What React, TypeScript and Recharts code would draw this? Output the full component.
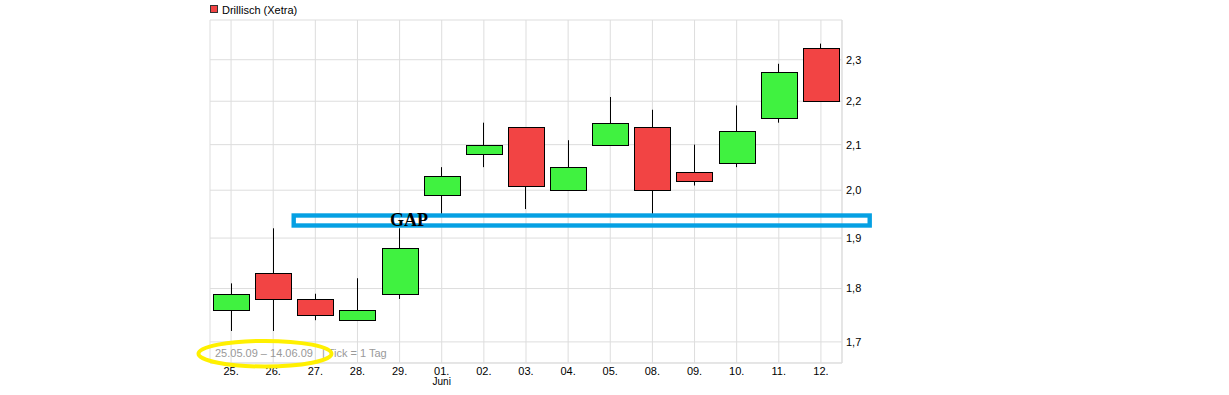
import React from "react";
import { ComposedChart, Bar, XAxis, YAxis, CartesianGrid, Cell, ReferenceArea } from "recharts";

const dates = ["25.", "26.", "27.", "28.", "29.", "01.", "02.", "03.", "04.", "05.", "08.", "09.", "10.", "11.", "12."];
const opens = [1.76, 1.83, 1.78, 1.74, 1.79, 1.99, 2.08, 2.14, 2.0, 2.1, 2.14, 2.04, 2.06, 2.16, 2.33];
const closes = [1.79, 1.78, 1.75, 1.76, 1.88, 2.03, 2.1, 2.01, 2.05, 2.15, 2.0, 2.02, 2.13, 2.27, 2.2];
const highs = [1.81, 1.92, 1.79, 1.82, 1.92, 2.05, 2.15, 2.14, 2.11, 2.21, 2.18, 2.1, 2.19, 2.29, 2.34];
const lows = [1.72, 1.72, 1.74, 1.74, 1.78, 1.95, 2.05, 1.96, 2.0, 2.1, 1.95, 2.01, 2.05, 2.15, 2.2];
const yTicks = [1.7, 1.8, 1.9, 2.0, 2.1, 2.2, 2.3];
const monthLabels: Record<string, string> = { "01.": "Juni" };
const seriesName = "Drillisch (Xetra)";
const rangeText = "25.05.09 \u2013 14.06.09";
const tickText = "| Tick = 1 Tag";

const GREEN = "#40F240";
const RED = "#F24444";
const GRID = "#dddddd";
const FONT = "'Liberation Sans', Arial, sans-serif";

const data = dates.map((d, i) => ({
  date: d,
  body: [Math.min(opens[i], closes[i]), Math.max(opens[i], closes[i])],
  wick: [lows[i], highs[i]],
  up: closes[i] >= opens[i],
}));

const Wick = (props: any) => {
  const { x, y, width, height } = props;
  if (x == null || y == null) return null;
  const cx = Math.round(x + width / 2) - 0.5;
  return <line x1={cx} x2={cx} y1={y} y2={y + height} stroke="#000" strokeWidth={1} />;
};

const Body = (props: any) => {
  const { x, y, width, height, payload } = props;
  if (x == null || y == null) return null;
  const x0 = Math.round(x) + 0.5;
  const y0 = Math.round(y) + 0.5;
  const y1 = Math.round(y + height) + 0.5;
  return (
    <rect
      x={x0}
      y={y0}
      width={Math.round(width)}
      height={Math.max(1, y1 - y0)}
      fill={payload.up ? GREEN : RED}
      stroke="#000"
      strokeWidth={1}
    />
  );
};

const XTick = (props: any) => {
  const { x, y, payload } = props;
  const extra = monthLabels[payload.value];
  return (
    <g>
      <text x={x} y={y} dy="0.71em" textAnchor="middle" fontSize={11} fontFamily={FONT} fill="#000">
        {payload.value}
      </text>
      {extra ? (
        <text x={x} y={y + 11} dy="0.71em" textAnchor="middle" fontSize={10} fontFamily={FONT} fill="#000">
          {extra}
        </text>
      ) : null}
    </g>
  );
};

export default function App() {
  return (
    <div style={{ position: "absolute", left: 0, top: 0, width: 1229, height: 395, background: "#fff", overflow: "hidden" }}>
      <ComposedChart
        width={1229}
        height={395}
        data={data}
        margin={{ top: 20, right: 347, bottom: 12, left: 210 }}
        barCategoryGap={0}
      >
        <CartesianGrid stroke={GRID} strokeWidth={1} />
        <XAxis
          xAxisId="main"
          dataKey="date"
          type="category"
          tickLine={false}
          axisLine={{ stroke: GRID }}
          tickSize={0}
          tickMargin={4}
          height={20}
          interval={0}
          tick={<XTick />}
        />
        <XAxis xAxisId="wick" dataKey="date" type="category" hide />
        <YAxis
          orientation="right"
          scale="log"
          domain={[1.662, 2.4]}
          allowDataOverflow
          ticks={yTicks}
          tickFormatter={(v: number) => v.toFixed(1).replace(".", ",")}
          tick={{ fontSize: 11, fontFamily: FONT, fill: "#000" }}
          tickLine={false}
          tickSize={0}
          tickMargin={4}
          axisLine={{ stroke: GRID }}
          width={40}
        />
        <ReferenceArea xAxisId="main" fill="none" stroke={GRID} strokeWidth={1} ifOverflow="visible" />
        <Bar xAxisId="wick" dataKey="wick" barSize={1} isAnimationActive={false} shape={<Wick />} />
        <Bar xAxisId="main" dataKey="body" barSize={36} isAnimationActive={false} shape={<Body />}>
          {data.map((d, i) => (
            <Cell key={i} fill={d.up ? GREEN : RED} />
          ))}
        </Bar>
      </ComposedChart>
      <svg
        width={1229}
        height={395}
        style={{ position: "absolute", left: 0, top: 0, pointerEvents: "none" }}
      >
        <rect x={210.5} y={5.5} width={7} height={7} fill={RED} stroke="#333" strokeWidth={1} />
        <text x={222} y={14} fontSize={11} fontFamily={FONT} fill="#000">
          {seriesName}
        </text>
        <text x={215} y={357} fontSize={11} fontFamily={FONT} fill="#999">
          {rangeText}
        </text>
        <text x={322} y={357} fontSize={11} fontFamily={FONT} fill="#999">
          {tickText}
        </text>
        <ellipse cx={265} cy={353.7} rx={66.5} ry={12.8} fill="none" stroke="#FFF000" strokeWidth={4} />
        <rect x={293.7} y={215.5} width={576} height={10} fill="none" stroke="#05A0E3" strokeWidth={4.4} />
        <text x={390} y={225.5} fontSize={18} fontWeight="bold" fontFamily="'Liberation Serif', 'Times New Roman', serif" fill="#000">
          GAP
        </text>
      </svg>
    </div>
  );
}
